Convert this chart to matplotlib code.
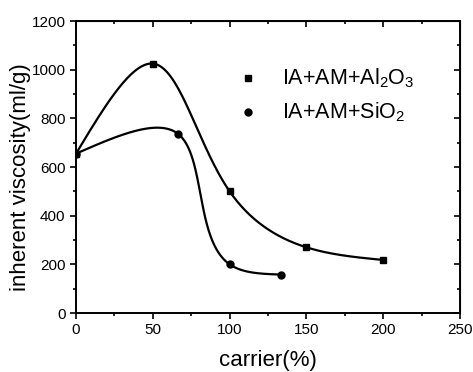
import numpy as np
import matplotlib
matplotlib.use('Agg')
import matplotlib.pyplot as plt
from matplotlib.ticker import MultipleLocator

# data
al_x = [0, 50, 100, 150, 200]
al_y = [655, 1025, 500, 270, 218]
si_x = [0, 66.7, 100, 133.3]
si_y = [655, 735, 200, 158]

al_label = r'IA+AM+Al$_2$O$_3$'
si_label = r'IA+AM+SiO$_2$'


def natural_coeffs(t, y):
    k = len(t)
    h = np.diff(t)
    A = np.zeros((k, k))
    b = np.zeros(k)
    A[0, 0] = A[-1, -1] = 1.
    for i in range(1, k - 1):
        A[i, i - 1] = h[i - 1]
        A[i, i] = 2 * (h[i - 1] + h[i])
        A[i, i + 1] = h[i]
        b[i] = 6 * ((y[i + 1] - y[i]) / h[i] - (y[i] - y[i - 1]) / h[i - 1])
    return np.linalg.solve(A, b)


def eval_spline(t, y, M, ts):
    idx = np.clip(np.searchsorted(t, ts) - 1, 0, len(t) - 2)
    t0, t1 = t[idx], t[idx + 1]
    hh = t1 - t0
    a = t1 - ts
    c = ts - t0
    return (M[idx] * a ** 3 + M[idx + 1] * c ** 3) / (6 * hh) \
        + (y[idx] / hh - M[idx] * hh / 6) * a \
        + (y[idx + 1] / hh - M[idx + 1] * hh / 6) * c


def param_spline(x, y, sx=384 / 250., sy=292 / 1200., n=300):
    # parametric spline on chord length, measured in pixels
    x = np.asarray(x, float)
    y = np.asarray(y, float)
    t = np.concatenate([[0], np.cumsum(np.hypot(np.diff(x) * sx, np.diff(y) * sy))])
    ts = np.linspace(0, t[-1], n)
    xs = eval_spline(t, x, natural_coeffs(t, x), ts)
    ys = eval_spline(t, y, natural_coeffs(t, y), ts)
    return xs, ys


plt.rcParams['font.family'] = ['Liberation Sans', 'DejaVu Sans']
plt.rcParams['mathtext.fontset'] = 'custom'
plt.rcParams['mathtext.rm'] = 'Liberation Sans'
plt.rcParams['mathtext.it'] = 'Liberation Sans'

fig = plt.figure(figsize=(4.73, 3.72), dpi=100)
ax = fig.add_axes([0.1607, 0.1586, 0.8118, 0.7849])

xs, ys = param_spline(al_x, al_y)
ax.plot(xs, ys, color='black', lw=1.6)
ax.plot(al_x, al_y, 's', color='black', ms=5)
xs, ys = param_spline(si_x, si_y)
ax.plot(xs, ys, color='black', lw=1.6)
ax.plot(si_x, si_y, 'o', color='black', ms=5)

# legend drawn by hand like the original
ax.plot([112], [965], 's', color='black', ms=5)
ax.plot([112], [827], 'o', color='black', ms=5)
ax.text(134, 965, al_label, fontsize=15.5, va='center')
ax.text(134, 827, si_label, fontsize=15.5, va='center')

ax.set_xlim(0, 250)
ax.set_ylim(0, 1200)
ax.xaxis.set_major_locator(MultipleLocator(50))
ax.xaxis.set_minor_locator(MultipleLocator(25))
ax.yaxis.set_major_locator(MultipleLocator(200))
ax.yaxis.set_minor_locator(MultipleLocator(100))
ax.tick_params(which='both', labelsize=11, width=1.2, direction='out')
ax.tick_params(which='major', length=4)
ax.tick_params(which='minor', length=2.5)
for s in ax.spines.values():
    s.set_linewidth(1.4)

sec = ax.secondary_xaxis('top')
sec.xaxis.set_major_locator(MultipleLocator(50))
sec.xaxis.set_minor_locator(MultipleLocator(25))
sec.tick_params(which='both', direction='in', labeltop=False, width=1.2)
sec.tick_params(which='major', length=4)
sec.tick_params(which='minor', length=2.5)
secy = ax.secondary_yaxis('right')
secy.yaxis.set_major_locator(MultipleLocator(200))
secy.yaxis.set_minor_locator(MultipleLocator(100))
secy.tick_params(which='both', direction='in', labelright=False, width=1.2)
secy.tick_params(which='major', length=4)
secy.tick_params(which='minor', length=2.5)

ax.set_xlabel('carrier(%)', fontsize=16, labelpad=9)
ax.set_ylabel('inherent viscosity(ml/g)', fontsize=16)
ax.yaxis.set_label_coords(-0.118, 0.466)

fig.savefig('out.png', dpi=100)
